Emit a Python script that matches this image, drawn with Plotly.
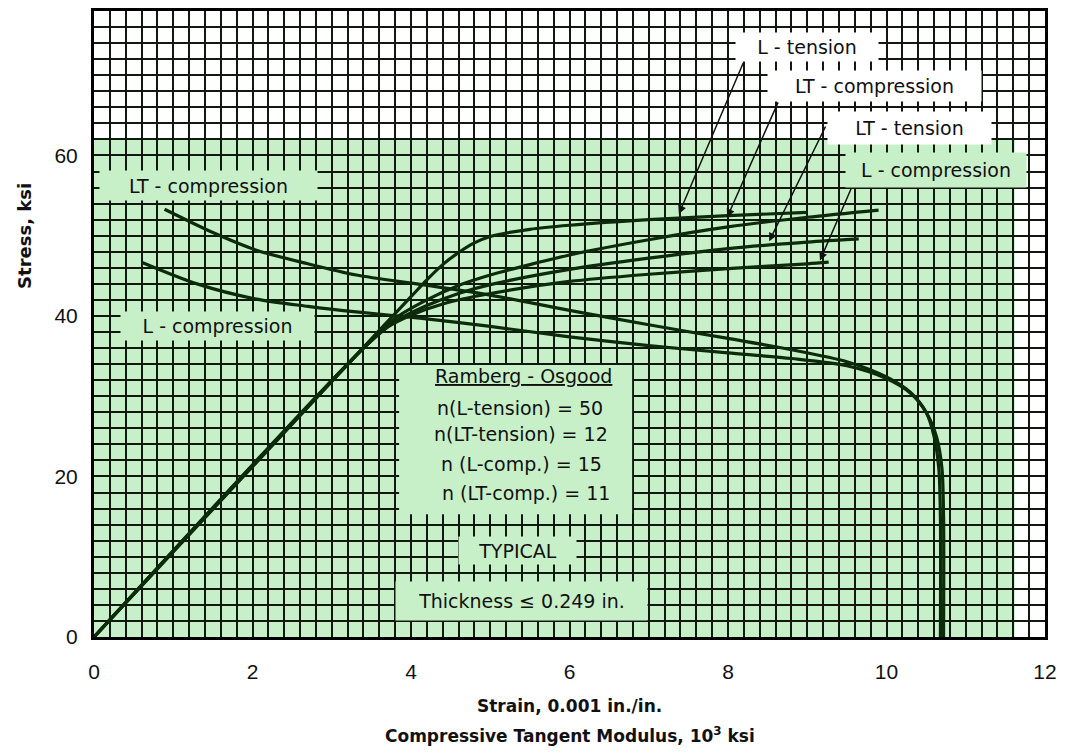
import plotly.graph_objects as go

# ---- stress-strain curves: strain (0.001 in./in.) vs stress (ksi) ----
l_tension_strain = [0, 3.6, 4.0, 4.2, 4.4, 4.6, 4.8, 5.0, 5.5, 6.0, 7.0, 8.0, 9.0]
l_tension_stress = [0, 38.2, 42.4, 44.5, 46.4, 47.9, 49.1, 49.9, 50.8, 51.3, 52.0, 52.5, 52.9]

lt_comp_strain = [0, 3.4, 3.8, 4.2, 4.6, 5.0, 5.5, 6.0, 7.0, 8.0, 9.0, 9.9]
lt_comp_stress = [0, 36.0, 39.7, 42.0, 43.8, 45.1, 46.4, 47.6, 49.5, 51.1, 52.3, 53.2]

lt_tension_strain = [0, 3.4, 3.8, 4.2, 4.6, 5.0, 6.0, 7.0, 8.0, 9.0, 9.65]
lt_tension_stress = [0, 36.0, 39.3, 41.3, 42.8, 43.9, 45.8, 47.2, 48.4, 49.2, 49.6]

l_comp_strain = [0, 3.4, 3.7, 4.0, 4.4, 5.0, 6.0, 7.0, 8.0, 9.0, 9.27]
l_comp_stress = [0, 36.0, 38.6, 40.1, 41.5, 42.8, 44.3, 45.2, 45.9, 46.5, 46.7]

# ---- compressive tangent modulus curves: Et (10^3 ksi) vs stress (ksi) ----
lt_comp_et = [0.89, 1.5, 2.05, 2.7, 3.31, 4.14, 5.0, 6.0, 7.0, 8.0, 8.8, 9.5,
              10.0, 10.3, 10.5, 10.63, 10.7, 10.72, 10.72]
lt_comp_et_stress = [53.3, 50.4, 48.2, 46.5, 45.1, 43.9, 42.6, 40.7, 38.9, 37.2, 35.8, 34.3,
                     32.4, 30.5, 28.0, 25.0, 21.0, 15.0, 0]

l_comp_et = [0.6, 1.3, 2.05, 2.7, 3.31, 4.14, 5.0, 6.0, 7.0, 8.0, 8.8, 9.5,
             10.0, 10.3, 10.5, 10.6, 10.66, 10.68, 10.68]
l_comp_et_stress = [46.7, 44.0, 42.1, 41.2, 40.5, 39.7, 38.7, 37.4, 36.3, 35.4, 34.7, 33.8,
                    32.2, 30.4, 28.0, 25.0, 21.0, 15.0, 0]

x_ticks = [0, 2, 4, 6, 8, 10, 12]
y_ticks = [0, 20, 40, 60]

CURVE = "#0b2b0b"
GRID = "#101810"
GREEN = "#c8f0c8"
TXT = "#111111"
FONT = "DejaVu Sans"

fig = go.Figure()

curves = [
    (l_tension_strain, l_tension_stress),
    (lt_comp_strain, lt_comp_stress),
    (lt_tension_strain, lt_tension_stress),
    (l_comp_strain, l_comp_stress),
    (lt_comp_et, lt_comp_et_stress),
    (l_comp_et, l_comp_et_stress),
]
for xs, ys in curves:
    fig.add_trace(go.Scatter(x=xs, y=ys, mode="lines",
                             line=dict(color=CURVE, width=3.2, shape="spline", smoothing=0.8),
                             hoverinfo="skip", showlegend=False))

# shaded field behind the grid
fig.add_shape(type="rect", xref="x", yref="y", x0=0, x1=11.62, y0=0, y1=62,
              fillcolor=GREEN, line=dict(width=0), layer="below")

# panel holding the Ramberg-Osgood exponents
fig.add_shape(type="rect", xref="x", yref="y", x0=3.85, x1=6.79, y0=15.3, y1=33.9,
              fillcolor=GREEN, line=dict(width=0), layer="above")

ann = []


def label(text, x, y, w, h, bg, size=19):
    ann.append(dict(x=x, y=y, xref="x", yref="y", text=text, showarrow=False,
                    font=dict(family=FONT, size=size, color=TXT),
                    bgcolor=bg, width=w, height=h, borderpad=0))


label("LT - compression", 1.45, 56.3, 217, 29, GREEN)
label("L - compression", 1.56, 38.7, 193, 28, GREEN)
label("L - tension", 9.0, 73.5, 142, 28, "white")
label("LT - compression", 9.85, 68.6, 213, 30, "white")
label("LT - tension", 10.29, 63.4, 163, 32, "white")
label("L - compression", 10.62, 58.2, 180, 34, GREEN)
label("TYPICAL", 5.34, 10.8, 117, 27, GREEN)
label("Thickness \u2264 0.249 in.", 5.40, 4.5, 251, 38, GREEN)

ro_lines = [
    ("<u>Ramberg - Osgood</u>", 5.42, 32.5),
    ("n(L-tension) = 50", 5.38, 28.5),
    ("n(LT-tension) = 12", 5.39, 25.3),
    ("n (L-comp.) = 15", 5.39, 21.6),
    ("n (LT-comp.) = 11", 5.45, 18.0),
]
for t, x, y in ro_lines:
    ann.append(dict(x=x, y=y, xref="x", yref="y", text=t, showarrow=False,
                    font=dict(family=FONT, size=19, color=TXT)))

# leader arrows from the labels to their curves
arrows = [
    (7.38, 52.7, 8.20, 71.7),
    (7.99, 52.3, 8.64, 66.8),
    (8.52, 49.3, 9.24, 63.8),
    (9.16, 46.9, 9.56, 56.0),
]
for x, y, axv, ayv in arrows:
    ann.append(dict(x=x, y=y, ax=axv, ay=ayv, xref="x", yref="y", axref="x", ayref="y",
                    text="", showarrow=True, arrowhead=2, arrowsize=1.1, arrowwidth=1.5,
                    arrowcolor="#111111"))

# axis titles (pixel rows 707 / 735, column 24)
ann.append(dict(x=0.5, y=-0.111, xref="paper", yref="paper", yanchor="middle",
                text="<b>Strain, 0.001 in./in.</b>",
                showarrow=False, font=dict(family=FONT, size=17, color=TXT)))
ann.append(dict(x=0.5, y=-0.156, xref="paper", yref="paper", yanchor="middle",
                text="<b>Compressive Tangent Modulus, 10<sup>3</sup> ksi</b>",
                showarrow=False, font=dict(family=FONT, size=17, color=TXT)))
ann.append(dict(x=-0.073, y=0.64, xref="paper", yref="paper", xanchor="center", yanchor="middle",
                text="<b>Stress, ksi</b>",
                textangle=-90, showarrow=False, font=dict(family=FONT, size=18, color=TXT)))

fig.update_layout(
    width=1065, height=755,
    margin=dict(l=94, r=18, t=8, b=118),
    paper_bgcolor="white", plot_bgcolor="white",
    annotations=ann,
    showlegend=False,
)
fig.update_xaxes(range=[0, 12], tickvals=x_ticks, ticks="", ticklabelstandoff=14,
                 tickfont=dict(family="Liberation Sans", size=21, color=TXT),
                 showgrid=True, gridcolor=GRID, gridwidth=2,
                 minor=dict(tick0=0, dtick=0.2, showgrid=True, gridcolor=GRID, gridwidth=1.7),
                 showline=True, linecolor="#000", linewidth=3, mirror=True, zeroline=False)
fig.update_yaxes(range=[0, 78], tickvals=y_ticks, ticks="", ticklabelstandoff=9,
                 tickfont=dict(family="Liberation Sans", size=21, color=TXT),
                 showgrid=True, gridcolor=GRID, gridwidth=2,
                 minor=dict(tick0=0, dtick=2, showgrid=True, gridcolor=GRID, gridwidth=1.7),
                 showline=True, linecolor="#000", linewidth=3, mirror=True, zeroline=False)

fig.write_html("out.html")
